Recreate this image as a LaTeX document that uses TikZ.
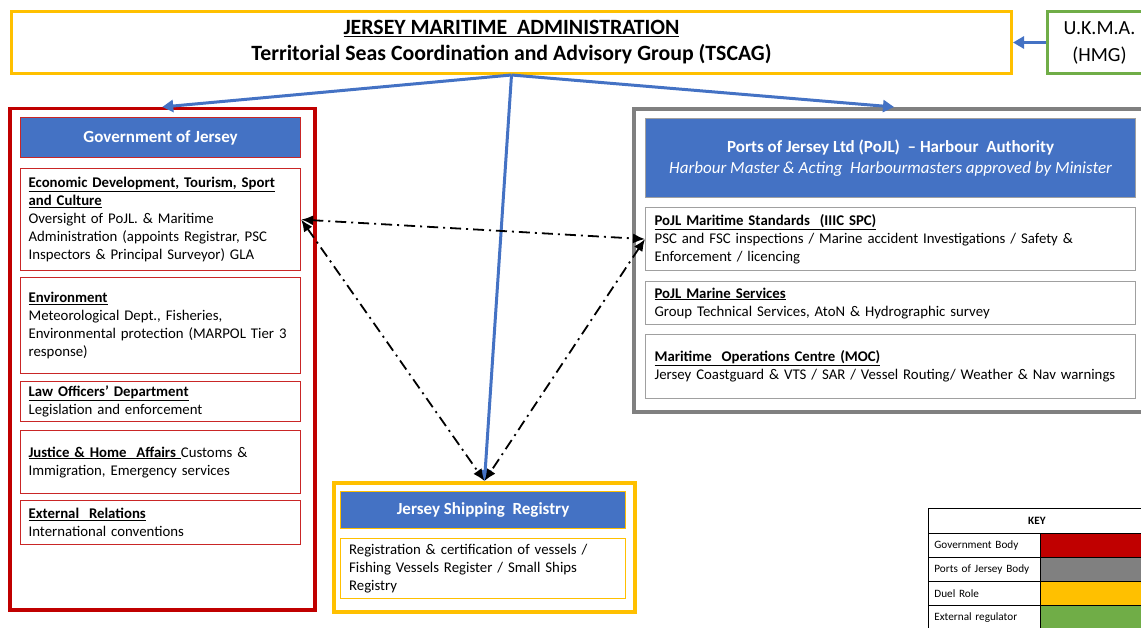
\documentclass[tikz,border=0pt]{standalone}
\usepackage{fontspec}
\setmainfont{Carlito}
\usetikzlibrary{positioning,arrows.meta}

\definecolor{govred}{HTML}{C00000}
\definecolor{portgray}{HTML}{808080}
\definecolor{duelyellow}{HTML}{FFC000}
\definecolor{extgreen}{HTML}{70AD47}
\definecolor{hdrblue}{HTML}{4472C4}

\newcommand{\ttl}[1]{\textbf{\underline{#1}}}
\newcommand{\bodysize}{\fontsize{14.8}{18}\selectfont}
\newcommand{\hdrsize}{\fontsize{17}{21}\selectfont}

\begin{document}
\begin{tikzpicture}[x=1pt, y=-1pt,
    outer/.style={draw, line width=3.5pt, anchor=north west, inner sep=0pt},
    hdr/.style={draw, line width=1.2pt, fill=hdrblue, text=white, anchor=north west,
        inner sep=0pt, align=center, font=\hdrsize\bfseries},
    unit/.style={draw, line width=1.2pt, anchor=north west, inner sep=0pt,
        align=left, font=\bodysize},
    govunit/.style={unit, draw=govred!85, minimum width=280pt, text width=264pt},
    portunit/.style={unit, draw=portgray!75, minimum width=490pt, text width=472pt},
    flow/.style={draw=hdrblue, line width=3pt, -{Triangle[length=11pt,width=12pt]}},
    link/.style={line width=1.8pt, dash pattern=on 11pt off 5pt on 2pt off 5pt,
        {Latex[length=12pt,width=10pt]}-{Latex[length=12pt,width=10pt]}},
    keycell/.style={draw, line width=0.8pt, anchor=north west, inner sep=0pt,
        font=\fontsize{11.2}{13}\selectfont}]
    \useasboundingbox (0,0) rectangle (1141,628);

    % Top: administration and UK regulator
    \node[outer, draw=duelyellow, line width=3pt, minimum width=1000pt, minimum height=62pt,
        align=center, font=\fontsize{21.8}{26}\selectfont\bfseries] (tscag) at (10,10)
        {\underline{JERSEY MARITIME\ \ ADMINISTRATION}\\Territorial Seas Coordination and Advisory Group (TSCAG)};
    \node[outer, draw=extgreen, line width=3pt, minimum width=104pt, minimum height=62pt,
        align=center, font=\fontsize{20}{27}\selectfont] (ukma) at (1046,10) {U.K.M.A.\\(HMG)};

    % Government of Jersey
    \node[outer, draw=govred, minimum width=305pt, minimum height=501pt] (gov) at (8,107) {};
    \node[hdr, draw=govred!85, minimum width=280pt, minimum height=40pt] (govhead) at (20,117) {Government of Jersey};
    \node[govunit, minimum height=102pt] (edtsc) at (20,168)
        {\ttl{Economic Development, Tourism, Sport}\\\ttl{and Culture}\\Oversight of PoJL. \& Maritime\\Administration (appoints Registrar, PSC\\Inspectors \& Principal Surveyor) GLA};
    \node[govunit, minimum height=96pt] (env) at (20,277)
        {\ttl{Environment}\\Meteorological Dept., Fisheries,\\Environmental protection (MARPOL Tier 3\\response)};
    \node[govunit, minimum height=40pt] (lod) at (20,381)
        {\ttl{Law Officers’ Department}\\Legislation and enforcement};
    \node[govunit, minimum height=63pt] (jha) at (20,430)
        {\ttl{Justice \& Home\ \ Affairs\ }Customs \&\\Immigration, Emergency services};
    \node[govunit, minimum height=44pt] (extrel) at (20,500)
        {\ttl{External\ \ Relations}\\International conventions};

    % Ports of Jersey
    \node[outer, draw=portgray, line width=4pt, minimum width=520pt, minimum height=303pt] (pojl) at (632,107) {};
    \node[hdr, draw=portgray!75, minimum width=490pt, minimum height=79pt] (pojlhead) at (645,118)
        {Ports of Jersey Ltd (PoJL)\ \ – Harbour\ \ Authority\\\mdseries\itshape Harbour Master \& Acting\ \ Harbourmasters approved by Minister};
    \node[portunit, minimum height=63pt] (mstd) at (645,207)
        {\ttl{PoJL Maritime Standards\ \ (IIIC SPC)}\\PSC and FSC inspections / Marine accident Investigations / Safety \&\\Enforcement / licencing};
    \node[portunit, minimum height=43pt] (msrv) at (645,281)
        {\ttl{PoJL Marine Services}\\Group Technical Services, AtoN \& Hydrographic survey};
    \node[portunit, minimum height=64pt] (moc) at (645,334)
        {\ttl{Maritime\ \ Operations Centre (MOC)}\\Jersey Coastguard \& VTS / SAR / Vessel Routing/ Weather \& Nav warnings};

    % Jersey Shipping Registry
    \node[outer, draw=duelyellow, line width=4pt, minimum width=301pt, minimum height=129pt] (jsr) at (332,481) {};
    \node[hdr, draw=duelyellow, minimum width=285pt, minimum height=37pt] (jsrhead) at (340,491) {Jersey Shipping\ \ Registry};
    \node[unit, draw=duelyellow, minimum width=285pt, text width=268pt, minimum height=60pt] (jsrtext) at (340,538)
        {Registration \& certification of vessels /\\Fishing Vessels Register / Small Ships\\Registry};

    % Key
    \node[keycell, minimum width=217pt, minimum height=25pt, font=\fontsize{11.2}{13}\selectfont\bfseries] (keyhead) at (928,508) {KEY};
    \foreach \lbl/\clr [count=\i] in {Government Body/govred, Ports of Jersey Body/portgray,
        Duel Role/duelyellow, External regulator/extgreen} {
        \node[keycell, minimum width=112pt, minimum height=24pt, text width=100pt, align=left] (keylbl\i) at (928,509+24*\i) {\lbl};
        \node[keycell, fill=\clr, minimum width=105pt, minimum height=24pt] (keyclr\i) at (1040,509+24*\i) {};
    }

    % Connectors
    \draw[flow] (ukma.west) -- (tscag.east);
    \draw[flow] (tscag.south) -- (gov.north);
    \draw[flow] (tscag.south) -- (pojl.north);
    \draw[flow] (tscag.south) -- (jsr.north);
    \draw[link] (edtsc.east) -- (mstd.west);
    \draw[link] (edtsc.east) -- (jsr.north);
    \draw[link] (mstd.west) -- (jsr.north);
\end{tikzpicture}
\end{document}
